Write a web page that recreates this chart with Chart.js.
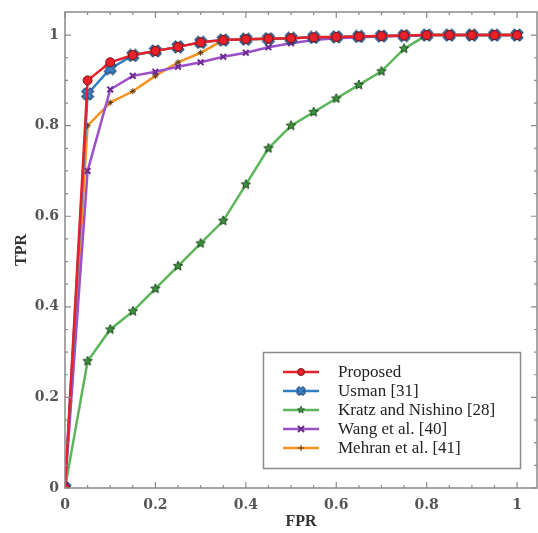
<!DOCTYPE html>
<html>
<head>
<meta charset="utf-8">
<script src="https://cdn.jsdelivr.net/npm/chart.js@4/dist/chart.umd.min.js"></script>
<style>
html,body{margin:0;padding:0;background:#fff;}
#wrap{position:relative;width:538px;height:533px;}
</style>
</head>
<body>
<div id="wrap"><canvas id="c"></canvas></div>
<script>
// ---- data ----
const fpr = [0,0.05,0.1,0.15,0.2,0.25,0.3,0.35,0.4,0.45,0.5,0.55,0.6,0.65,0.7,0.75,0.8,0.85,0.9,0.95,1];
const proposed = [0,0.90,0.94,0.956,0.965,0.974,0.984,0.989,0.991,0.992,0.993,0.995,0.996,0.997,0.998,0.999,1,1,1,1,1];
const usman    = [0,0.87,0.926,0.955,0.965,0.974,0.984,0.989,0.991,0.992,0.993,0.995,0.996,0.997,0.998,0.999,1,1,1,1,1];
const kratz    = [0,0.28,0.35,0.39,0.44,0.49,0.54,0.59,0.67,0.75,0.80,0.83,0.86,0.89,0.92,0.97,1,1,1,1,1];
const wang     = [0,0.70,0.88,0.91,0.919,0.93,0.94,0.952,0.961,0.973,0.982,0.989,0.993,0.995,0.997,0.998,1,1,1,1,1];
const mehran   = [0,0.80,0.851,0.876,0.91,0.94,0.961,0.989,0.991,0.992,0.993,0.995,0.996,0.997,0.998,0.999,1,1,1,1,1];
const seriesNames = ["Proposed","Usman [31]","Kratz and Nishino [28]","Wang et al. [40]","Mehran et al. [41]"];
const xTickLabels = ["0","0.2","0.4","0.6","0.8","1"];
const yTickLabels = ["0","0.2","0.4","0.6","0.8","1"];
const majorTicks = [0,0.2,0.4,0.6,0.8,1];

// ---- marker images ----
function starCanvas(size, fill, stroke){
  const c=document.createElement('canvas'); c.width=size; c.height=size;
  const g=c.getContext('2d'); const cx=size/2, cy=size/2, R=size/2-1, r=R*0.45;
  g.beginPath();
  for(let i=0;i<10;i++){const a=-Math.PI/2+i*Math.PI/5; const rr=i%2?r:R; g.lineTo(cx+rr*Math.cos(a),cy+rr*Math.sin(a));}
  g.closePath(); g.fillStyle=fill; g.fill(); g.lineWidth=1; g.strokeStyle=stroke; g.stroke();
  return c;
}
function xCanvas(size, fill, stroke){
  const c=document.createElement('canvas'); c.width=size; c.height=size;
  const g=c.getContext('2d'); const h=size/2; const t=size*0.17; const e=h-1;
  g.translate(h,h); g.rotate(Math.PI/4);
  g.beginPath();
  g.moveTo(-t,-e);g.lineTo(t,-e);g.lineTo(t,-t);g.lineTo(e,-t);g.lineTo(e,t);g.lineTo(t,t);g.lineTo(t,e);g.lineTo(-t,e);g.lineTo(-t,t);g.lineTo(-e,t);g.lineTo(-e,-t);g.lineTo(-t,-t);g.closePath();
  g.fillStyle=fill; g.fill(); g.lineWidth=1; g.strokeStyle=stroke; g.stroke();
  return c;
}
const greenStar = starCanvas(12,'#3f8f3f','#1d4a1d');
const blueX = xCanvas(14,'#3a7fc4','#1d3f66');

const colors = {red:'#e8202a', blue:'#2f7fc2', green:'#5bb55b', purple:'#9b4fc8', orange:'#f6921e'};

const styles = [
  {color:colors.red, pointStyle:'circle', radius:4.5, pbg:'#e8202a', pbc:'#7a1010', pbw:1},
  {color:colors.blue, pointStyle:blueX, radius:7, pbg:'#3a7fc4', pbc:'#1d3f66', pbw:1},
  {color:colors.green, pointStyle:greenStar, radius:6, pbg:'#3f8f3f', pbc:'#1d4a1d', pbw:1},
  {color:colors.purple, pointStyle:'crossRot', radius:4, pbg:'#6a2a90', pbc:'#6a2a90', pbw:2},
  {color:colors.orange, pointStyle:'star', radius:3, pbg:'#5a3a10', pbc:'#5a3a10', pbw:1}
];
const seriesData = [proposed, usman, kratz, wang, mehran];

const datasets = seriesData.map((arr,i)=>({
  label: seriesNames[i],
  data: fpr.map((x,j)=>({x:x, y:arr[j]})),
  borderColor: styles[i].color,
  backgroundColor: styles[i].color,
  borderWidth: 2.5,
  pointStyle: styles[i].pointStyle,
  pointRadius: styles[i].radius,
  pointBackgroundColor: styles[i].pbg,
  pointBorderColor: styles[i].pbc,
  pointBorderWidth: styles[i].pbw,
  tension: 0,
  fill: false
}));

// ---- frame, inward ticks, legend ----
const framePlugin = {
  id:'frame',
  afterDatasetsDraw(chart){
    const {ctx, chartArea:a, scales:{x, y}} = chart;
    ctx.save();
    ctx.strokeStyle='#8a8a8a'; ctx.lineWidth=1.5;
    ctx.strokeRect(a.left, a.top, a.right-a.left, a.bottom-a.top);
    ctx.lineWidth=1.2;
    for(let k=0;k<=20;k++){
      const v=k*0.05; const major = (k%4===0);
      const len = major?6:3;
      const px = x.getPixelForValue(v);
      ctx.beginPath();
      ctx.moveTo(px,a.bottom); ctx.lineTo(px,a.bottom-len);
      ctx.moveTo(px,a.top); ctx.lineTo(px,a.top+len);
      ctx.stroke();
      const py = y.getPixelForValue(v);
      ctx.beginPath();
      ctx.moveTo(a.left,py); ctx.lineTo(a.left+len,py);
      ctx.moveTo(a.right,py); ctx.lineTo(a.right-len,py);
      ctx.stroke();
    }
    ctx.restore();
  },
  afterDraw(chart){
    const ctx=chart.ctx;
    ctx.save();
    const bx=263.5, by=352.5, bw=257, bh=116;
    ctx.fillStyle='#fff'; ctx.fillRect(bx,by,bw,bh);
    ctx.strokeStyle='#8a8a8a'; ctx.lineWidth=1.5; ctx.strokeRect(bx,by,bw,bh);
    ctx.font='17px "Liberation Serif"'; ctx.textBaseline='middle'; ctx.fillStyle='#222';
    for(let i=0;i<seriesNames.length;i++){
      const ry = 372 + i*19;
      const s = styles[i];
      ctx.strokeStyle=s.color; ctx.lineWidth=2.5;
      ctx.beginPath(); ctx.moveTo(283,ry); ctx.lineTo(319,ry); ctx.stroke();
      const mx=301;
      if(s.pointStyle instanceof HTMLCanvasElement){
        const sc=0.75; const w=s.pointStyle.width*sc, h=s.pointStyle.height*sc;
        ctx.drawImage(s.pointStyle, mx-w/2, ry-h/2, w, h);
      } else if(s.pointStyle==='circle'){
        ctx.beginPath(); ctx.arc(mx,ry,3.5,0,Math.PI*2); ctx.fillStyle=s.pbg; ctx.fill();
        ctx.lineWidth=1; ctx.strokeStyle=s.pbc; ctx.stroke();
      } else if(s.pointStyle==='crossRot'){
        ctx.strokeStyle=s.pbc; ctx.lineWidth=2; const d=3;
        ctx.beginPath(); ctx.moveTo(mx-d,ry-d); ctx.lineTo(mx+d,ry+d); ctx.moveTo(mx-d,ry+d); ctx.lineTo(mx+d,ry-d); ctx.stroke();
      } else {
        ctx.strokeStyle=s.pbc; ctx.lineWidth=1; const d=3;
        ctx.beginPath(); ctx.moveTo(mx-d,ry); ctx.lineTo(mx+d,ry); ctx.moveTo(mx,ry-d); ctx.lineTo(mx,ry+d); ctx.stroke();
      }
      ctx.fillStyle='#222';
      ctx.fillText(seriesNames[i], 338, ry+1);
    }
    ctx.restore();
  }
};

new Chart(document.getElementById('c'), {
  type:'line',
  data:{datasets},
  options:{
    responsive:true, maintainAspectRatio:false, animation:false,
    layout:{autoPadding:false, padding:{top:12, right:1, left:0, bottom:0}},
    plugins:{legend:{display:false}, tooltip:{enabled:false}},
    scales:{
      x:{
        type:'linear', min:0, max:1.044,
        afterBuildTicks(s){ s.ticks = majorTicks.map(v=>({value:v})); },
        afterFit(s){ s.height=45; s.paddingLeft=0; s.paddingRight=0; },
        ticks:{ callback:(v,i)=>xTickLabels[i], color:'#555', font:{family:'DejaVu Serif', size:14, weight:'bold'}, padding:9, maxRotation:0, autoSkip:false },
        grid:{display:false, drawTicks:false},
        border:{display:false},
        title:{display:true, text:'FPR', color:'#333', font:{family:'Liberation Serif', size:16, weight:'bold'}, padding:{top:0,bottom:2}}
      },
      y:{
        type:'linear', min:0, max:1.051,
        afterBuildTicks(s){ s.ticks = majorTicks.map(v=>({value:v})); },
        afterFit(s){ s.width=65; s.paddingTop=0; s.paddingBottom=0; },
        ticks:{ callback:(v,i)=>yTickLabels[i], color:'#555', font:{family:'DejaVu Serif', size:14, weight:'bold'}, padding:6, autoSkip:false },
        grid:{display:false, drawTicks:false},
        border:{display:false},
        title:{display:true, text:'TPR', color:'#333', font:{family:'Liberation Serif', size:16, weight:'bold'}, padding:{top:12,bottom:0}}
      }
    }
  },
  plugins:[framePlugin]
});
</script>
</body>
</html>
